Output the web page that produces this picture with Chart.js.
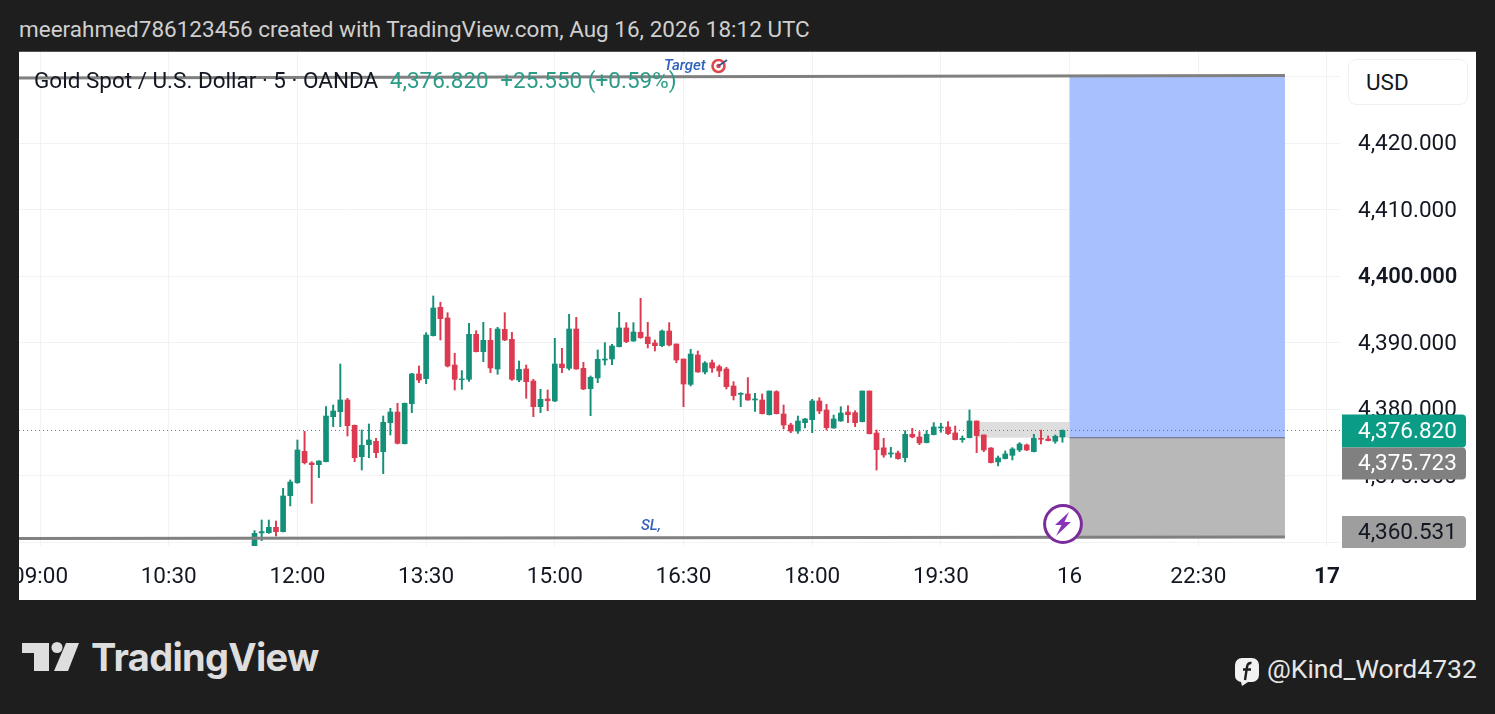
<!DOCTYPE html>
<html>
<head>
<meta charset="utf-8">
<title>Gold Spot / U.S. Dollar</title>
<script src="https://cdn.jsdelivr.net/npm/chart.js@4/dist/chart.umd.min.js"></script>
<style>
html, body { margin: 0; width: 1495px; height: 714px; overflow: hidden; background: #1e1e1e; font-family: Roboto, sans-serif; }
.abs { position: absolute; white-space: nowrap; }
#panel { position: absolute; left: 19px; top: 52px; width: 1457px; height: 548px; background: #fff; overflow: hidden; box-shadow: 0 -1px 0 #555; }
#chart { position: absolute; left: -20px; top: 0; }
#header { left: 19px; top: 15px; font-size: 22.5px; line-height: 28px; color: #cfcfcf; }
#legend { left: 15px; top: 14px; font-size: 22.5px; line-height: 28px; color: #131722; }
#legend span { color: #2b9c88; margin-left: 6px; }
#target { left: 645px; top: 4px; font-size: 15px; line-height: 18px; font-weight: 500; font-style: italic; color: #2f62b8; }
#sl { left: 622px; top: 464px; font-size: 15px; line-height: 18px; font-weight: 500; font-style: italic; color: #2f62b8; }
#usd { left: 1329px; top: 7px; width: 101px; height: 44px; padding-left: 17px; line-height: 44px; border: 1px solid #f0f0f2; border-radius: 8px; background: #fff; font-size: 22.5px; color: #131722; }
#brand { left: 91px; top: 633px; font-family: Inter, sans-serif; font-weight: 700; font-size: 38px; line-height: 48px; letter-spacing: -0.7px; color: #dedede; }
#handle { left: 1267px; top: 652px; font-size: 26.5px; line-height: 34px; color: #e6e6e6; }
</style>
</head>
<body>
<div class="abs" id="header">meerahmed786123456 created with TradingView.com, Aug 16, 2026 18:12 UTC</div>
<div id="panel">
  <canvas id="chart" width="1477" height="548"></canvas>
  <div class="abs" id="legend">Gold Spot / U.S. Dollar · 5 · OANDA <span>4,376.820</span> <span>+25.550</span> <span style="margin-left:0">(+0.59%)</span></div>
  <div class="abs" id="target">Target</div>
  <svg class="abs" style="left:691px;top:6px" width="19" height="16" viewBox="0 0 19 16">
    <circle cx="8.500" cy="8" r="6" fill="#fff" stroke="#e0474c" stroke-width="2.6"/>
    <circle cx="8.500" cy="8" r="2.300" fill="#e0474c"/>
    <path d="M8.500 8 L17 2" stroke="#35568f" stroke-width="1.6"/>
  </svg>
  <div class="abs" id="sl">SL,</div>
  <svg class="abs" style="left:1024px;top:452px" width="40" height="40" viewBox="0 0 40 40">
    <circle cx="20" cy="20" r="18.4" fill="#fff" stroke="#7b2c9a" stroke-width="3"/>
    <path d="M26 8 L12 21 H18.500 L13 32 L28 18 H21.500 Z" fill="#8a33b8"/>
  </svg>
  <div class="abs" id="usd">USD</div>
</div>
<svg class="abs" style="left:0;top:620px" width="90" height="60" viewBox="0 0 90 60">
  <path d="M22 23 H49 V51 H34 V33 H22 Z" fill="#dedede"/>
  <circle cx="57" cy="27.500" r="5.500" fill="#dedede"/>
  <path d="M66 23 H79 L68 51 H54 Z" fill="#dedede"/>
</svg>
<div class="abs" id="brand">TradingView</div>
<svg class="abs" style="left:1234px;top:657px" width="26" height="30" viewBox="0 0 26 30">
  <path d="M8 1 H18 A7 7 0 0 1 25 8 V18 A7 7 0 0 1 18 25 H14 L8 29 L7 25 A6.500 6.500 0 0 1 1 18 V8 A7 7 0 0 1 8 1 Z" fill="#f2f2f2"/>
  <path d="M17.500 6 C14.500 5.500 13.500 7 13 10 L11 23 M9 12.500 H17" fill="none" stroke="#1e1e1e" stroke-width="2.400"/>
</svg>
<div class="abs" id="handle">@Kind_Word4732</div>
<script>
// 5 minute candles, first one at 11:30
const opens = [4359.24,4361.40,4361.45,4362.25,4361.60,4367.01,4368.96,4373.68,4371.92,4371.67,
  4372.12,4378.89,4379.64,4381.40,4377.59,4372.87,4374.68,4375.18,4373.63,4377.99,
  4379.59,4374.83,4380.85,4385.31,4384.61,4391.07,4395.33,4393.73,4386.66,4384.45,
  4384.51,4391.27,4388.67,4390.37,4386.06,4392.02,4390.52,4384.40,4386.06,4384.25,
  4380.39,4381.55,4381.25,4386.81,4386.16,4392.07,4386.16,4383.10,4384.71,4387.41,
  4387.56,4389.42,4392.23,4390.27,4391.57,4390.87,4389.97,4389.57,4391.77,4389.82,
  4387.56,4383.75,4388.16,4385.61,4387.01,4386.41,4386.06,4383.50,4382.25,4382.30,
  4381.40,4381.40,4379.19,4382.65,4379.29,4377.64,4376.73,4377.99,4378.44,4381.25,
  4379.89,4377.19,4378.24,4379.59,4379.49,4378.14,4382.75,4376.43,4374.20,4373.28,
  4373.43,4372.73,4376.24,4375.84,4374.99,4376.19,4377.19,4377.34,4376.44,4375.44,
  4375.74,4378.24,4376.14,4374.18,4372.08,4372.58,4373.08,4373.88,4374.63,4373.63,
  4375.64,4375.54,4375.19,4375.84];
const highs = [4361.75,4363.35,4363.35,4363.20,4368.11,4369.37,4375.38,4376.68,4372.12,4372.27,
  4380.39,4380.65,4386.81,4381.65,4377.64,4376.89,4377.79,4375.63,4378.99,4380.14,
  4380.90,4380.95,4385.41,4386.51,4391.52,4397.04,4396.09,4394.53,4388.42,4385.81,
  4392.93,4391.82,4393.08,4392.18,4392.33,4394.53,4391.57,4387.26,4386.66,4384.51,
  4383.00,4382.90,4390.67,4389.17,4394.28,4393.83,4387.06,4385.01,4388.92,4390.02,
  4389.77,4394.58,4393.03,4393.03,4396.69,4393.08,4390.42,4391.92,4393.03,4389.82,
  4387.56,4389.02,4388.77,4387.16,4387.41,4386.66,4386.31,4384.15,4382.50,4384.76,
  4382.40,4382.30,4382.75,4382.80,4380.64,4377.89,4378.99,4378.64,4381.50,4381.75,
  4380.74,4379.14,4380.39,4380.54,4379.79,4382.75,4382.75,4376.88,4375.64,4374.28,
  4373.73,4376.79,4377.14,4376.64,4376.79,4377.99,4377.89,4378.14,4377.49,4375.99,
  4379.90,4378.24,4376.14,4374.23,4372.98,4373.73,4374.23,4374.99,4374.78,4376.24,
  4376.89,4375.99,4376.14,4376.90];
const lows = [4359.09,4360.24,4361.34,4360.94,4361.55,4365.46,4368.86,4371.77,4365.86,4369.72,
  4372.07,4377.39,4377.39,4375.98,4372.12,4370.87,4372.72,4372.72,4370.32,4376.13,
  4374.78,4374.78,4379.49,4384.00,4383.85,4391.02,4390.42,4386.36,4382.90,4383.00,
  4384.20,4388.62,4387.16,4385.51,4385.26,4390.32,4384.35,4384.15,4381.65,4378.89,
  4379.49,4379.79,4381.15,4385.51,4385.91,4386.01,4382.95,4379.04,4384.00,4386.66,
  4386.71,4389.37,4390.02,4390.22,4390.67,4389.22,4388.77,4389.42,4389.52,4387.01,
  4380.39,4383.50,4385.56,4385.31,4385.56,4384.91,4383.05,4381.40,4380.39,4381.35,
  4379.69,4379.29,4379.14,4379.29,4377.04,4376.48,4376.38,4377.19,4376.48,4379.34,
  4376.88,4377.14,4378.19,4377.99,4377.39,4378.09,4376.28,4370.87,4372.78,4372.78,
  4372.48,4372.08,4375.69,4374.68,4374.94,4376.14,4376.54,4376.19,4375.39,4375.04,
  4375.69,4373.48,4373.63,4371.93,4371.48,4372.53,4372.38,4373.63,4373.78,4373.58,
  4374.78,4375.24,4374.89,4375.04];
const closes = [4361.34,4361.60,4362.25,4361.60,4366.96,4369.06,4373.88,4371.97,4371.67,4372.22,
  4378.99,4379.74,4381.40,4377.54,4372.72,4374.58,4375.38,4373.48,4378.04,4379.59,
  4374.88,4380.90,4385.31,4384.40,4391.17,4395.23,4393.63,4386.51,4384.51,4384.56,
  4391.27,4388.67,4390.37,4386.21,4392.07,4390.42,4384.51,4386.01,4384.15,4380.39,
  4381.50,4381.30,4386.81,4386.26,4392.07,4386.06,4383.05,4384.81,4387.51,4387.56,
  4389.52,4392.23,4390.17,4391.62,4390.77,4389.87,4389.57,4391.77,4389.67,4387.41,
  4383.80,4388.31,4385.61,4386.96,4386.21,4385.76,4383.40,4382.05,4382.40,4381.40,
  4381.55,4379.34,4382.75,4379.34,4377.64,4376.73,4378.24,4378.54,4381.25,4379.74,
  4377.24,4378.54,4379.44,4379.19,4377.99,4382.75,4376.33,4373.93,4373.13,4373.43,
  4372.58,4376.24,4375.84,4374.94,4376.24,4377.34,4377.34,4376.34,4375.44,4375.64,
  4378.24,4376.04,4373.88,4371.98,4372.68,4373.28,4374.03,4374.78,4373.88,4375.64,
  4375.49,4375.29,4375.94,4376.82];

// minutes counted from 09:00
const firstCandle = 150
const candleStep = 5
const xTicks = [0,90,180,270,360,450,540,630,720,810,900]
const xLabels = ['09:00','10:30','12:00','13:30','15:00','16:30','18:00','19:30','16','22:30','17']
const yTicks = [4360,4370,4380,4390,4400,4410,4420,4430]

const xMin = -14.7
const xMax = 909.1
const yMin = 4359.44
const yMax = 4433.73

const lastPrice = 4376.82
const entryPrice = 4375.723
const stopPrice = 4360.531
const targetLine = [4429.82, 4430.20]
const stopLine = [4360.57, 4360.80]

// long position tool and the small zone before it
const posStart = 720
const posEnd = 870.6
const zoneStart = 656
const zoneTop = 4378.1
const zoneBottom = 4375.723

const upColor = '#148f78'
const downColor = '#dc3a50'
const candleColors = closes.map((c, i) => c >= opens[i] ? upColor : downColor)
const times = closes.map((c, i) => firstCandle + i * candleStep)

const money = v => v.toLocaleString('en-US', { minimumFractionDigits: 3, maximumFractionDigits: 3 })

const drawings = {
    id: 'drawings',
    beforeDatasetsDraw(chart) {
        const { ctx, scales: { x, y } } = chart
        const box = (x1, x2, p1, p2, color) => {
            ctx.fillStyle = color
            ctx.fillRect(x.getPixelForValue(x1), y.getPixelForValue(p1), x.getPixelForValue(x2) - x.getPixelForValue(x1), y.getPixelForValue(p2) - y.getPixelForValue(p1))
        }
        box(zoneStart, posStart, zoneTop, zoneBottom, '#dedede')
        box(posStart, posEnd, targetLine[1], entryPrice, '#a8c0fd')
        box(posStart, posEnd, entryPrice, stopLine[1], '#b8b8b8')
        ctx.strokeStyle = '#5f6b85'
        ctx.lineWidth = 1
        ctx.beginPath()
        ctx.moveTo(x.getPixelForValue(posStart), y.getPixelForValue(entryPrice))
        ctx.lineTo(x.getPixelForValue(posEnd), y.getPixelForValue(entryPrice))
        ctx.stroke()
    },
    afterDraw(chart) {
        const { ctx, chartArea, scales: { y } } = chart
        const tag = (top, h, text, bg, fg) => {
            ctx.fillStyle = bg
            ctx.beginPath()
            ctx.roundRect(chartArea.right + 2, top, 124, h, [0, 4, 4, 0])
            ctx.fill()
            ctx.fillStyle = fg
            ctx.font = '22.5px Roboto'
            ctx.textAlign = 'left'
            ctx.textBaseline = 'middle'
            ctx.fillText(text, chartArea.right + 18, top + h / 2 + 1)
        }
        const lastTop = y.getPixelForValue(lastPrice) - 16
        tag(lastTop, 33, money(lastPrice), '#0a9c84', '#fff')
        tag(lastTop + 33, 32, money(entryPrice), '#808080', '#fff')
        tag(Math.min(y.getPixelForValue(stopPrice) - 16, chartArea.bottom - 30), 32, money(stopPrice), '#9e9e9e', '#131722')
    }
}

const ctx = document.getElementById('chart').getContext('2d')

new Chart(ctx, {
    data: {
        datasets: [{
            type: 'line',
            label: 'Target',
            data: [{ x: xMin, y: targetLine[0] }, { x: posEnd, y: targetLine[1] }],
            borderColor: '#808080',
            borderWidth: 3,
            pointRadius: 0,
            order: 0
        }, {
            type: 'line',
            label: 'SL',
            data: [{ x: xMin, y: stopLine[0] }, { x: posEnd, y: stopLine[1] }],
            borderColor: '#808080',
            borderWidth: 3,
            pointRadius: 0,
            order: 0
        }, {
            type: 'bar',
            label: 'Body',
            data: times.map((t, i) => ({ x: t, y: [opens[i], closes[i]] })),
            backgroundColor: candleColors,
            barThickness: 5,
            grouped: false,
            order: 1
        }, {
            type: 'bar',
            label: 'Wick',
            data: times.map((t, i) => ({ x: t, y: [lows[i], highs[i]] })),
            backgroundColor: candleColors,
            barThickness: 1.3,
            grouped: false,
            order: 2
        }, {
            type: 'line',
            label: 'Last price',
            data: [{ x: xMin, y: lastPrice }, { x: xMax, y: lastPrice }],
            borderColor: '#0f9d86',
            borderWidth: 1,
            borderDash: [1, 3],
            pointRadius: 0,
            order: 3
        }]
    },
    options: {
        responsive: false,
        animation: false,
        layout: { padding: { left: 20 } },
        scales: {
            x: {
                type: 'linear',
                offset: false,
                min: xMin,
                max: xMax,
                afterBuildTicks: scale => { scale.ticks = xTicks.map(v => ({ value: v })) },
                // no label margins, the 09:00 label is cut by the panel edge
                afterFit: scale => { scale.height = 54; scale.paddingLeft = 0; scale.paddingRight = 0 },
                grid: { color: '#f1f2f4', drawTicks: false, offset: false },
                border: { display: false },
                ticks: {
                    autoSkip: false,
                    maxRotation: 0,
                    padding: 18,
                    color: '#131722',
                    font: c => ({ family: 'Roboto', size: 22.5, weight: c.index === 10 ? 'bold' : 'normal' }),
                    callback: (v, i) => xLabels[i]
                }
            },
            y: {
                position: 'right',
                min: yMin,
                max: yMax,
                afterBuildTicks: scale => { scale.ticks = yTicks.map(v => ({ value: v })) },
                afterFit: scale => { scale.width = 136; scale.paddingTop = 0; scale.paddingBottom = 0 },
                grid: { color: '#f1f2f4', drawTicks: false },
                border: { display: false },
                ticks: {
                    padding: 18,
                    labelOffset: 1.5,
                    color: '#131722',
                    font: c => c.tick && c.tick.value === 4400
                        ? { family: 'Roboto', size: 22, weight: '600' }
                        : { family: 'Roboto', size: 22.5, weight: 'normal' },
                    // the 4,360 label sits under the stop tag in the reference
                    callback: v => v === 4360 ? '' : money(v)
                }
            }
        },
        plugins: {
            legend: { display: false },
            tooltip: { enabled: false }
        }
    },
    plugins: [drawings]
})
</script>
</body>
</html>
